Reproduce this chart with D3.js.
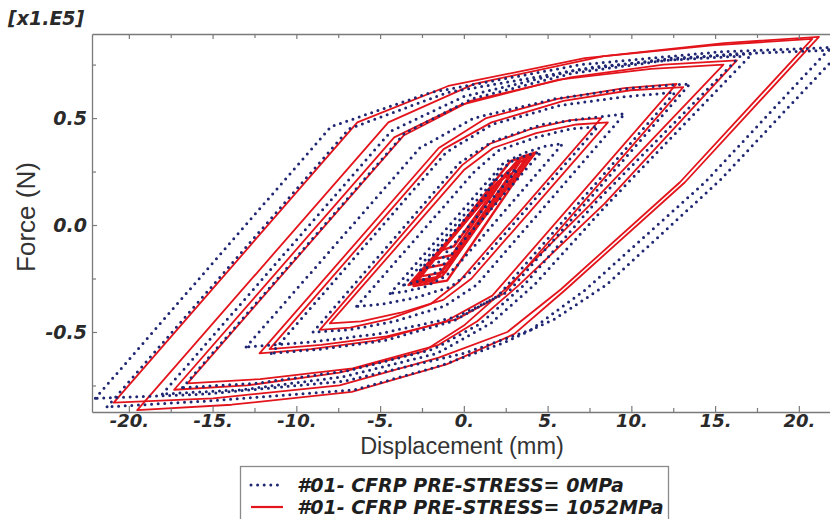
<!DOCTYPE html>
<html>
<head>
<meta charset="utf-8">
<script src="https://cdn.jsdelivr.net/npm/d3@7/dist/d3.min.js"></script>
<style>
  html, body { margin: 0; padding: 0; background: #fff; }
  svg { display: block; }
</style>
</head>
<body>
<svg id="chart" width="830" height="519"></svg>
<script>
// Hysteresis loops: displacement (mm) vs force (x1e5 N), one closed loop per load cycle.
const seriesNames = [
  "#01- CFRP PRE-STRESS= 0MPa",
  "#01- CFRP PRE-STRESS= 1052MPa"
];

const xTicks = [-20, -15, -10, -5, 0, 5, 10, 15, 20];
const xTickLabels = ["-20.", "-15.", "-10.", "-5.", "0.", "5.", "10.", "15.", "20."];
const xMinorTicks = [-17.5, -12.5, -7.5, -2.5, 2.5, 7.5, 12.5, 17.5];
const yTicks = [-0.5, 0, 0.5];
const yTickLabels = ["-0.5", "0.0", "0.5"];
const yMinorTicks = [-0.75, -0.25, 0.25, 0.75];

// Pre-stress 0 MPa cycles, [displacement, force]
const cycles0MPa = [
  [[-2.6,-0.21],[1.32,0.14],[1.7,0.2],[2.26,0.23],[2.79,0.25],[3.2,0.26],[-0.97,-0.12],[-1.3,-0.16],[-1.79,-0.19],[-2.24,-0.2]],
  [[-3.6,-0.28],[1.59,0.19],[2.19,0.26],[3.1,0.31],[3.94,0.33],[4.6,0.34],[-0.89,-0.15],[-1.43,-0.21],[-2.25,-0.25],[-3.0,-0.27]],
  [[-4.4,-0.32],[1.48,0.21],[2.36,0.29],[3.69,0.34],[4.93,0.37],[5.9,0.38],[-0.28,-0.18],[-1.1,-0.24],[-2.34,-0.29],[-3.49,-0.31]],
  [[-6.4,-0.38],[0.63,0.25],[2.1,0.35],[4.32,0.41],[6.38,0.45],[8.0,0.46],[0.57,-0.21],[-0.82,-0.29],[-2.92,-0.34],[-4.87,-0.37]],
  [[-9,-0.5],[-0.27,0.29],[1.7,0.39],[4.67,0.47],[7.43,0.5],[9.6,0.52],[0.77,-0.28],[-1.18,-0.38],[-4.12,-0.45],[-6.85,-0.49]],
  [[-11.5,-0.6],[-1.05,0.34],[1.68,0.47],[5.78,0.56],[9.6,0.6],[12.6,0.62],[2.05,-0.33],[-0.66,-0.45],[-4.73,-0.54],[-8.52,-0.58]],
  [[-13,-0.57],[-2.63,0.36],[0.6,0.5],[5.44,0.59],[9.95,0.64],[13.5,0.66],[2.68,-0.31],[-0.46,-0.43],[-5.16,-0.51],[-9.55,-0.55]],
  [[-16.8,-0.76],[-3.53,0.43],[0.48,0.59],[6.49,0.71],[12.1,0.77],[16.5,0.79],[7.8,0.1],[3.6,-0.28],[1.0,-0.46],[-1.8,-0.58],[-6.86,-0.68],[-12.43,-0.74]],
  [[-18,-0.79],[-4.33,0.44],[-0.02,0.6],[6.43,0.72],[12.46,0.78],[17.2,0.8],[8.6,0.1],[4.2,-0.28],[1.6,-0.46],[-1.6,-0.6],[-7.26,-0.71],[-13.27,-0.77]],
  [[-22,-0.81],[-7.93,0.46],[-1.96,0.62],[6.99,0.75],[15.34,0.81],[21.9,0.83],[14.4,0.2],[7.3,-0.3],[4.0,-0.49],[0,-0.6],[-7.14,-0.73],[-15.46,-0.79]],
  [[-21.3,-0.85],[-6.85,0.45],[-0.96,0.62],[7.88,0.74],[16.12,0.8],[22.6,0.82],[15.3,0.21],[8.5,-0.28],[5.4,-0.44],[2.4,-0.55],[-1.5,-0.66],[-6.5,-0.77],[-14.79,-0.82]]
];

// Pre-stress 1052 MPa cycles, [displacement, force]
const cycles1052MPa = [
  [[-1.4,-0.12],[1.2,0.13],[1.7,0.15],[-0.6,-0.1]],
  [[-1.8,-0.16],[1.6,0.17],[2.2,0.2],[-0.7,-0.14]],
  [[-2.2,-0.2],[2.0,0.2],[2.8,0.24],[-0.9,-0.18]],
  [[-2.6,-0.24],[2.6,0.25],[3.3,0.29],[-1.1,-0.22]],
  [[-2.9,-0.26],[3.0,0.28],[3.7,0.31],[-1.3,-0.24]],
  [[-3.1,-0.27],[3.3,0.31],[4.0,0.33],[-1.6,-0.25]],
  [[-3.3,-0.28],[3.5,0.32],[4.3,0.34],[-1.8,-0.26]],
  [[-3.0,-0.285],[2.8,0.3],[4.1,0.325],[-1.0,-0.26]],
  [[-8,-0.46],[0.04,0.26],[1.75,0.36],[4.32,0.43],[6.72,0.47],[8.6,0.48],[0.46,-0.25],[-1.23,-0.35],[-3.77,-0.41],[-6.14,-0.45]],
  [[-8.6,-0.49],[-0.1,0.28],[1.56,0.38],[4.05,0.45],[6.37,0.49],[8.2,0.5],[-0.35,-0.27],[-2.0,-0.37],[-4.48,-0.44],[-6.79,-0.48]],
  [[-11.6,-0.58],[-1.21,0.355],[1.65,0.48],[5.95,0.58],[9.95,0.63],[13.1,0.645],[2.39,-0.32],[-0.41,-0.44],[-4.61,-0.52],[-8.52,-0.56]],
  [[-12.2,-0.6],[-1.5,0.36],[1.34,0.5],[5.6,0.59],[9.58,0.64],[12.7,0.66],[1.7,-0.33],[-1.08,-0.45],[-5.25,-0.54],[-9.14,-0.58]],
  [[-16.5,-0.74],[-3.57,0.42],[0.4,0.58],[6.37,0.69],[11.93,0.75],[16.3,0.77],[8.4,0.1],[3.3,-0.28],[0.8,-0.45],[-1.5,-0.56],[-6.64,-0.67],[-12.16,-0.72]],
  [[-17.3,-0.77],[-4.16,0.41],[-0.23,0.56],[5.67,0.68],[11.17,0.73],[15.5,0.75],[7.6,0.1],[2.6,-0.29],[0.0,-0.47],[-2.4,-0.59],[-7.42,-0.69],[-12.95,-0.75]],
  [[-20.9,-0.83],[-6.36,0.48],[-0.93,0.65],[7.22,0.78],[14.82,0.84],[20.8,0.87],[12.9,0.2],[5.8,-0.3],[2.6,-0.5],[-1.5,-0.62],[-7.42,-0.75],[-14.97,-0.81]],
  [[-19.5,-0.865],[-4.51,0.48],[0.63,0.66],[8.35,0.79],[15.54,0.85],[21.2,0.88],[13.2,0.2],[6.1,-0.3],[3.0,-0.51],[-1.0,-0.65],[-6.69,-0.78],[-13.86,-0.84]]
];

const BLUE = "#1f2672";
const RED = "#e3141b";
const AXIS = "#7a7a7a";
const TEXT = "#2a2a2a";

const svg = d3.select("#chart");
const plot = { left: 92, top: 34, bottom: 412 };

const x = d3.scaleLinear().domain([-22.2, 22.3]).range([plot.left, plot.left + 16.75 * 44.5]);
const y = d3.scaleLinear().domain([-0.874, 0.893]).range([plot.bottom, plot.top]);

svg.append("defs").append("clipPath").attr("id", "plotClip")
  .append("rect")
  .attr("x", plot.left).attr("y", plot.top)
  .attr("width", x.range()[1] - plot.left).attr("height", plot.bottom - plot.top);

const loop = d3.line().x(d => x(d[0])).y(d => y(d[1])).curve(d3.curveLinearClosed);

const marks = svg.append("g").attr("clip-path", "url(#plotClip)");

// Solid red loops (the small elastic cycles drawn a little heavier)
marks.append("g").selectAll("path").data(cycles1052MPa).join("path")
  .attr("d", loop)
  .attr("fill", "none")
  .attr("stroke", RED)
  .attr("stroke-width", d => d.length <= 4 ? 2.4 : 1.8)
  .attr("stroke-linejoin", "round");

// Dotted blue loops
marks.append("g").selectAll("path").data(cycles0MPa).join("path")
  .attr("d", loop)
  .attr("fill", "none")
  .attr("stroke", BLUE)
  .attr("stroke-width", 3)
  .attr("stroke-linecap", "round")
  .attr("stroke-dasharray", "0 6.6");

// Axes with inward ticks
function styleAxis(g) {
  g.selectAll("path.domain").attr("stroke", AXIS).attr("stroke-width", 1.3);
  g.selectAll(".tick line").attr("stroke", AXIS).attr("stroke-width", 1.2);
}
const BOLD_ITALIC = "'DejaVu Sans', Verdana, sans-serif";
const tickFont = g => g.selectAll("text")
  .attr("fill", TEXT)
  .style("font-family", BOLD_ITALIC)
  .style("font-weight", "bold")
  .style("font-style", "italic")
  .style("font-size", "18px");

const xAxis = d3.axisBottom(x).tickValues(xTicks)
  .tickFormat((d, i) => xTickLabels[i]).tickSizeInner(-6).tickSizeOuter(0).tickPadding(2);
svg.append("g").attr("transform", `translate(0,${plot.bottom})`).call(xAxis)
  .call(styleAxis).call(tickFont);
svg.append("g").attr("transform", `translate(0,${plot.bottom})`)
  .call(d3.axisBottom(x).tickValues(xMinorTicks).tickFormat("").tickSizeInner(-4).tickSizeOuter(0))
  .call(g => g.select("path.domain").remove()).call(styleAxis);

svg.append("g").attr("transform", `translate(0,${plot.top})`)
  .call(d3.axisTop(x).tickValues(xTicks).tickFormat("").tickSizeInner(-5).tickSizeOuter(0))
  .call(styleAxis);
svg.append("g").attr("transform", `translate(0,${plot.top})`)
  .call(d3.axisTop(x).tickValues(xMinorTicks).tickFormat("").tickSizeInner(-4).tickSizeOuter(0))
  .call(g => g.select("path.domain").remove()).call(styleAxis);

const yAxis = d3.axisLeft(y).tickValues(yTicks)
  .tickFormat((d, i) => yTickLabels[i]).tickSizeInner(-5).tickSizeOuter(0).tickPadding(5);
svg.append("g").attr("transform", `translate(${plot.left},0)`).call(yAxis)
  .call(styleAxis).call(tickFont)
  .call(g => g.selectAll("text").style("font-size", "19px"));
svg.append("g").attr("transform", `translate(${plot.left},0)`)
  .call(d3.axisLeft(y).tickValues(yMinorTicks).tickFormat("").tickSizeInner(-4).tickSizeOuter(0))
  .call(g => g.select("path.domain").remove()).call(styleAxis);

// Scale factor label
svg.append("text")
  .attr("x", 8).attr("y", 25)
  .attr("fill", TEXT)
  .style("font-family", BOLD_ITALIC)
  .style("font-weight", "bold").style("font-style", "italic").style("font-size", "19px")
  .text("[x1.E5]");

// Axis titles
svg.append("text")
  .attr("x", 462).attr("y", 454)
  .attr("text-anchor", "middle")
  .attr("fill", "#333")
  .style("font-family", "'Liberation Sans', Arial, sans-serif")
  .style("font-size", "23.5px")
  .text("Displacement (mm)");

svg.append("text")
  .attr("transform", "translate(35,217) rotate(-90)")
  .attr("text-anchor", "middle")
  .attr("fill", "#333")
  .style("font-family", "'Liberation Sans', Arial, sans-serif")
  .style("font-size", "26px")
  .text("Force (N)");

// Legend
const legend = svg.append("g");
legend.append("rect")
  .attr("x", 240.5).attr("y", 466.5).attr("width", 428).attr("height", 70)
  .attr("fill", "#fff").attr("stroke", "#8a8a8a").attr("stroke-width", 1.3);

const legendRows = [
  { name: seriesNames[0], color: BLUE, dash: "0 6.6", width: 3, cap: "round" },
  { name: seriesNames[1], color: RED, dash: null, width: 2.2, cap: "butt" }
];
legendRows.forEach((r, i) => {
  const cy = 485 + i * 22;
  legend.append("line")
    .attr("x1", 251).attr("x2", 283).attr("y1", cy).attr("y2", cy)
    .attr("stroke", r.color).attr("stroke-width", r.width)
    .attr("stroke-linecap", r.cap)
    .attr("stroke-dasharray", r.dash);
  legend.append("text")
    .attr("x", 297).attr("y", cy + 6.5)
    .attr("fill", "#1e1e1e")
    .style("font-family", BOLD_ITALIC)
    .style("font-weight", "bold").style("font-style", "italic").style("font-size", "19px")
    .text(r.name);
});
</script>
</body>
</html>
